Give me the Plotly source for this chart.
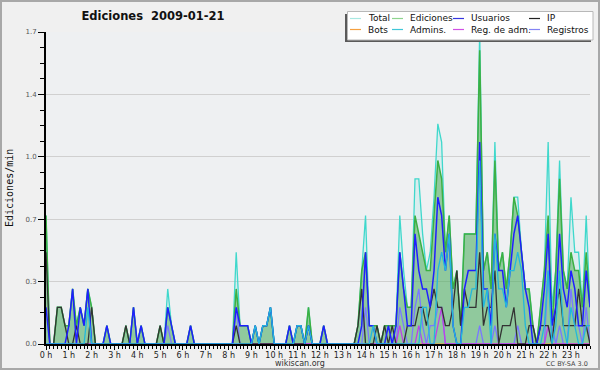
import plotly.graph_objects as go
import pandas as pd

# ---------------- data (edits per minute, 10-minute bins) ----------------
times = pd.date_range("2009-01-21 00:00", periods=144, freq="10min")
hour_ticks = pd.date_range("2009-01-21 00:00", periods=24, freq="h")
hour_labels = ["0 h", "1 h", "2 h", "3 h", "4 h", "5 h", "6 h", "7 h", "8 h", "9 h",
               "10 h", "11 h", "12 h", "13 h", "14 h", "15 h", "16 h", "17 h", "18 h",
               "19 h", "20 h", "21 h", "22 h", "23 h"]
y_tick_vals = [0, 0.34, 0.68, 1.02, 1.36, 1.7]
y_tick_labels = ["0.0", "0.3", "0.7", "1.0", "1.4", "1.7"]

total = [
    .7, 0, 0, .2, .2, .1, .1, .3, .1, .2, .1, .3,
    .2, 0, 0, 0, .1, 0, 0, 0, 0, .1, 0, .2,
    0, .1, 0, 0, 0, 0, .1, 0, .3, .1, 0, 0,
    0, 0, .1, 0, 0, 0, 0, 0, 0, 0, 0, 0,
    0, 0, .5, .1, .1, .1, 0, .1, 0, .1, .1, .2,
    0, 0, 0, 0, .1, 0, .1, .1, 0, .2, 0, 0,
    0, .1, 0, 0, 0, 0, 0, 0, 0, 0, .1, .4,
    .7, .1, .1, .1, 0, .1, .1, .1, .1, .7, .4, .2,
    .2, .9, .9, .6, .4, .5, .8, 1.2, 1.1, .5, .7, .3,
    .4, .1, .6, .6, .6, .6, 1.7, .4, .5, .3, 1.1, .4,
    .5, .3, .5, .8, .8, .5, .3, .3, .1, 0, .2, .4,
    1.1, .2, .4, 1.0, .4, .3, .8, .5, .5, .2, .7, .2,
]
edits = [
    .7, 0, 0, .2, .2, .1, .1, .3, .1, .2, .1, .3,
    .2, 0, 0, 0, .1, 0, 0, 0, 0, .1, 0, .2,
    0, .1, 0, 0, 0, 0, .1, 0, .2, .1, 0, 0,
    0, 0, .1, 0, 0, 0, 0, 0, 0, 0, 0, 0,
    0, 0, .3, .1, .1, .1, 0, .1, 0, .1, .1, .2,
    0, 0, 0, 0, .1, 0, .1, .1, 0, .2, 0, 0,
    0, .1, 0, 0, 0, 0, 0, 0, 0, 0, .1, .4,
    .5, .1, .1, .1, 0, .1, .1, .1, .1, .5, .3, .2,
    .2, .7, .6, .5, .4, .4, .7, 1.0, .9, .5, .7, .3,
    .4, .1, .6, .6, .6, .6, 1.6, .4, .5, .3, 1.0, .4,
    .5, .3, .5, .8, .7, .5, .3, .3, .1, 0, .2, .4,
    .7, .1, .4, .9, .4, .3, .5, .4, .4, .2, .5, .2,
]
users = [
    .2, 0, 0, 0, 0, 0, .1, .3, 0, .2, .1, .3,
    0, 0, 0, 0, .1, 0, 0, 0, 0, 0, 0, .2,
    0, .1, 0, 0, 0, 0, 0, 0, .2, .1, 0, 0,
    0, 0, .1, 0, 0, 0, 0, 0, 0, 0, 0, 0,
    0, 0, .2, .1, .1, .1, 0, .1, 0, .1, .1, .2,
    0, 0, 0, 0, .1, 0, .1, .1, 0, .1, 0, 0,
    0, .1, 0, 0, 0, 0, 0, 0, 0, 0, 0, .1,
    .5, .1, .1, 0, 0, 0, .1, 0, .1, .5, .3, .1,
    .1, .6, .4, .3, .3, .2, .4, .8, .7, .4, .6, .1,
    0, 0, .3, .4, .4, .4, 1.1, .3, .3, .1, .6, .4,
    .4, .2, .4, .6, .7, .5, .3, .2, 0, 0, .1, .3,
    .6, .1, .2, .6, .3, .2, .4, .3, .1, .1, .4, .2,
]
ip = [
    .5, 0, 0, .2, .2, .1, 0, 0, .1, 0, 0, 0,
    .2, 0, 0, 0, 0, 0, 0, 0, 0, .1, 0, 0,
    0, 0, 0, 0, 0, 0, .1, 0, 0, 0, 0, 0,
    0, 0, 0, 0, 0, 0, 0, 0, 0, 0, 0, 0,
    0, 0, .1, 0, 0, 0, 0, 0, 0, 0, 0, 0,
    0, 0, 0, 0, 0, 0, 0, 0, 0, .1, 0, 0,
    0, 0, 0, 0, 0, 0, 0, 0, 0, 0, .1, .3,
    0, 0, 0, .1, 0, .1, 0, .1, 0, 0, 0, .1,
    .1, .1, .2, .2, .1, .2, .3, .2, .2, .1, .1, .2,
    .4, .1, .3, .2, .2, .2, .5, .1, .2, .2, .4, 0,
    .1, .1, .1, .2, 0, 0, 0, .1, .1, 0, .1, .1,
    .1, 0, .2, .3, .1, .1, .1, .1, .3, .1, .1, 0,
]
bots = [
    0, 0, 0, 0, 0, 0, 0, 0, 0, 0, 0, 0,
    0, 0, 0, 0, 0, 0, 0, 0, 0, 0, 0, 0,
    0, 0, 0, 0, 0, 0, 0, 0, 0, 0, 0, 0,
    0, 0, 0, 0, 0, 0, 0, 0, 0, 0, 0, 0,
    0, 0, 0, 0, 0, 0, 0, 0, 0, 0, 0, 0,
    0, 0, 0, 0, 0, 0, 0, 0, 0, 0, 0, 0,
    0, 0, 0, 0, 0, 0, 0, 0, 0, 0, 0, 0,
    0, 0, 0, 0, 0, 0, 0, 0, 0, 0, 0, 0,
    0, 0, 0, 0, 0, 0, 0, 0, 0, 0, 0, 0,
    0, 0, 0, 0, 0, 0, 0, 0, 0, 0, 0, 0,
    0, 0, 0, 0, 0, 0, 0, 0, 0, 0, 0, 0,
    0, 0, 0, 0, 0, 0, 0, 0, 0, 0, 0, 0,
]
admins = [
    0, 0, 0, 0, 0, 0, 0, 0, 0, 0, 0, .2,
    0, 0, 0, 0, 0, 0, 0, 0, 0, 0, 0, 0,
    0, 0, 0, 0, 0, 0, 0, 0, 0, 0, 0, 0,
    0, 0, 0, 0, 0, 0, 0, 0, 0, 0, 0, 0,
    0, 0, 0, 0, 0, 0, 0, .1, 0, .1, .1, .2,
    0, 0, 0, 0, 0, 0, .1, .1, 0, .1, 0, 0,
    0, 0, 0, 0, 0, 0, 0, 0, 0, 0, 0, 0,
    0, 0, .1, 0, 0, 0, 0, 0, 0, 0, 0, 0,
    0, 0, 0, .2, .2, 0, 0, .4, .5, .4, .6, .1,
    0, 0, .2, .2, .3, .3, 1.0, .2, .3, 0, .6, .3,
    .3, .2, .4, .4, .5, .4, .1, 0, 0, 0, 0, .1,
    .4, 0, .1, .4, .1, 0, .2, .1, 0, 0, .1, .1,
]
reg_adm = [
    0, 0, 0, 0, 0, 0, 0, 0, 0, 0, 0, 0,
    0, 0, 0, 0, 0, 0, 0, 0, 0, 0, 0, 0,
    0, 0, 0, 0, 0, 0, 0, 0, 0, 0, 0, 0,
    0, 0, 0, 0, 0, 0, 0, 0, 0, 0, 0, 0,
    0, 0, 0, 0, 0, 0, 0, 0, 0, 0, 0, 0,
    0, 0, 0, 0, 0, 0, 0, 0, 0, 0, 0, 0,
    0, 0, 0, 0, 0, 0, 0, 0, 0, 0, 0, 0,
    0, 0, 0, 0, 0, 0, 0, 0, 0, .1, 0, 0,
    0, 0, .1, 0, 0, 0, 0, .1, .2, 0, 0, 0,
    0, 0, 0, 0, 0, 0, 0, 0, 0, 0, 0, 0,
    0, 0, 0, 0, 0, 0, 0, 0, 0, 0, 0, 0,
    .1, 0, 0, 0, 0, 0, 0, 0, 0, 0, 0, 0,
]
registros = [
    0, 0, 0, 0, 0, 0, 0, 0, 0, 0, 0, 0,
    0, 0, 0, 0, 0, 0, 0, 0, 0, 0, 0, 0,
    0, 0, 0, 0, 0, 0, 0, 0, .1, 0, 0, 0,
    0, 0, 0, 0, 0, 0, 0, 0, 0, 0, 0, 0,
    0, 0, .2, 0, 0, 0, 0, 0, 0, 0, 0, 0,
    0, 0, 0, 0, 0, 0, 0, 0, 0, 0, 0, 0,
    0, 0, 0, 0, 0, 0, 0, 0, 0, 0, 0, 0,
    .2, 0, 0, 0, 0, 0, 0, 0, 0, .2, .1, 0,
    0, .2, .3, .1, 0, .1, .1, .2, .2, 0, 0, 0,
    0, 0, 0, 0, 0, 0, .1, 0, 0, 0, .1, 0,
    0, 0, 0, 0, .1, 0, 0, 0, 0, 0, 0, 0,
    .4, .1, 0, .1, 0, 0, .3, .1, .1, 0, .2, 0,
]

series_names = ["Total", "Ediciones", "Usuarios", "IP", "Bots", "Admins.", "Reg. de adm.", "Registros"]

# ---------------- styles ----------------
FONT = "DejaVu Sans"
W, H = 600, 370
ML, MR, MT, MB = 46, 10, 32, 26
PW, PH = W - ML - MR, H - MT - MB


def px(x):
    return (x - ML) / PW


def py(y):
    return (H - MB - y) / PH


line_colors = {
    "Total": "#3fd8cc",
    "Ediciones": "#3cb043",
    "Usuarios": "#1f1fff",
    "IP": "#333333",
    "Bots": "#ff9a2e",
    "Admins.": "#22b8dc",
    "Reg. de adm.": "#c040e8",
    "Registros": "#7a78ff",
}
swatch_colors = {
    "Total": "#a8e8e2",
    "Ediciones": "#8ed48e",
    "Usuarios": "#3636e0",
    "IP": "#222222",
    "Bots": "#f5a040",
    "Admins.": "#40c6d8",
    "Reg. de adm.": "#d050e4",
    "Registros": "#8484f4",
}

fig = go.Figure()

fig.add_trace(go.Scatter(x=times, y=total, name="Total", mode="lines", fill="tozeroy",
                         fillcolor="rgba(120,225,215,0.16)",
                         line=dict(color=line_colors["Total"], width=1.3)))
fig.add_trace(go.Scatter(x=times, y=edits, name="Ediciones", mode="lines", fill="tozeroy",
                         fillcolor="rgba(70,165,75,0.5)",
                         line=dict(color=line_colors["Ediciones"], width=1.5)))
fig.add_trace(go.Scatter(x=times, y=bots, name="Bots", mode="lines",
                         line=dict(color=line_colors["Bots"], width=1.2)))
fig.add_trace(go.Scatter(x=times, y=registros, name="Registros", mode="lines",
                         line=dict(color=line_colors["Registros"], width=1.3)))
fig.add_trace(go.Scatter(x=times, y=reg_adm, name="Reg. de adm.", mode="lines",
                         line=dict(color=line_colors["Reg. de adm."], width=1.3)))
fig.add_trace(go.Scatter(x=times, y=ip, name="IP", mode="lines",
                         line=dict(color=line_colors["IP"], width=1.3)))
fig.add_trace(go.Scatter(x=times, y=users, name="Usuarios", mode="lines",
                         line=dict(color=line_colors["Usuarios"], width=1.5)))
fig.add_trace(go.Scatter(x=times, y=admins, name="Admins.", mode="lines",
                         line=dict(color=line_colors["Admins."], width=1.3)))

shapes = []
annotations = []

# outer border of the image
shapes.append(dict(type="rect", xref="paper", yref="paper",
                   x0=px(1), x1=px(599), y0=py(369), y1=py(1),
                   line=dict(color="#a8a8a8", width=2), fillcolor="rgba(0,0,0,0)", layer="above"))

# legend box (shadow + white box)
shapes.append(dict(type="rect", xref="paper", yref="paper",
                   x0=px(345), x1=px(591), y0=py(42), y1=py(14),
                   line=dict(width=0), fillcolor="#5a5a5a", layer="above"))
shapes.append(dict(type="rect", xref="paper", yref="paper",
                   x0=px(347.5), x1=px(593), y0=py(40), y1=py(11.5),
                   line=dict(color="#b8b8b8", width=1), fillcolor="#ffffff", layer="above"))

col_x = [350, 392, 453, 529]
row_y = [18.5, 29.5]
legend_layout = [["Total", "Ediciones", "Usuarios", "IP"],
                 ["Bots", "Admins.", "Reg. de adm.", "Registros"]]
for r, row in enumerate(legend_layout):
    for c, name in enumerate(row):
        x0 = col_x[c]
        shapes.append(dict(type="line", xref="paper", yref="paper",
                           x0=px(x0), x1=px(x0 + 11), y0=py(row_y[r]), y1=py(row_y[r]),
                           line=dict(color=swatch_colors[name], width=1.2), layer="above"))
        annotations.append(dict(text=name, xref="paper", yref="paper",
                                x=px(x0 + 15.5), y=py(row_y[r]), xanchor="left", yanchor="middle",
                                showarrow=False, font=dict(family=FONT, size=9, color="#111111")))

# y-axis title
annotations.append(dict(text="Ediciones/min", xref="paper", yref="paper",
                        x=px(9), y=py(188), textangle=-90, xanchor="center", yanchor="middle",
                        showarrow=False, font=dict(family="DejaVu Sans Mono", size=10, color="#111111")))
# footer texts
annotations.append(dict(text="wikiscan.org", xref="paper", yref="paper",
                        x=px(300), y=py(363.5), xanchor="center", yanchor="middle",
                        showarrow=False, font=dict(family=FONT, size=8, color="#333333")))
annotations.append(dict(text="CC BY-SA 3.0", xref="paper", yref="paper",
                        x=px(590), y=py(364), xanchor="right", yanchor="middle",
                        showarrow=False, font=dict(family=FONT, size=6.5, color="#444444")))

fig.update_layout(
    width=W, height=H,
    margin=dict(l=ML, r=MR, t=MT, b=MB, pad=0),
    paper_bgcolor="#f0f0f0",
    plot_bgcolor="#eef0f2",
    showlegend=False,
    title=dict(text="<b>Ediciones  2009-01-21</b>", x=153 / W, xanchor="center",
               y=1 - 16 / H, yanchor="middle",
               font=dict(family=FONT, size=11.5, color="#111111")),
    font=dict(family=FONT),
    shapes=shapes,
    annotations=annotations,
    xaxis=dict(
        type="date",
        range=[times[0], times[-1]],
        tickmode="array", tickvals=hour_ticks, ticktext=hour_labels,
        ticks="outside", ticklen=4, tickwidth=1, tickcolor="#000000",
        tickfont=dict(family=FONT, size=8, color="#222222"),
        ticklabelstandoff=-2,
        showline=True, linecolor="#000000", linewidth=2,
        showgrid=False, zeroline=False,
        minor=dict(ticks="outside", dtick=600000, ticklen=3, tickcolor="#000000", tickwidth=1,
                   showgrid=False),
    ),
    yaxis=dict(
        range=[0, 1.7],
        tickmode="array", tickvals=y_tick_vals, ticktext=y_tick_labels,
        ticks="outside", ticklen=6, tickwidth=1, tickcolor="#000000",
        tickfont=dict(family=FONT, size=7, color="#555555"),
        showline=True, linecolor="#000000", linewidth=2,
        showgrid=True, gridcolor="#d0d0d0", gridwidth=1,
        zeroline=False,
        minor=dict(ticks="outside", tick0=0, dtick=0.085, ticklen=4, tickcolor="#000000",
                   tickwidth=1, showgrid=False),
    ),
)

fig.write_html("out.html",
               config={"displayModeBar": False},
               post_script="document.body.style.margin='0';document.body.style.overflow='hidden';")
